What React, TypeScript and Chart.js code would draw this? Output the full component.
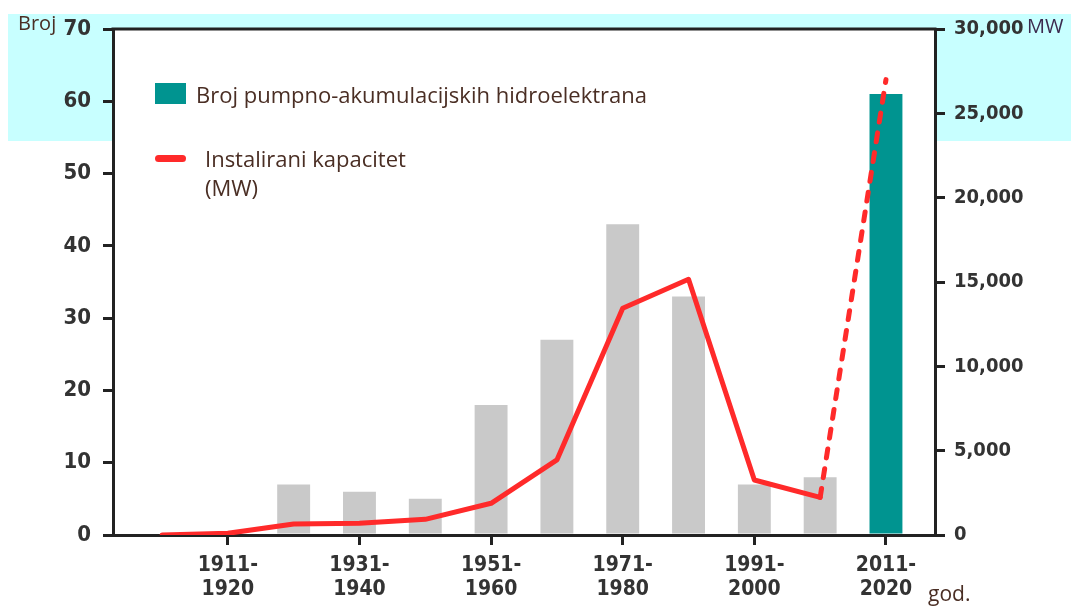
import React, { useEffect, useRef } from "react";
import { Chart, registerables } from "chart.js";

Chart.register(...registerables);

// Decades (x categories)
const decades = [
  "1901-1910", "1911-1920", "1921-1930", "1931-1940", "1941-1950", "1951-1960",
  "1961-1970", "1971-1980", "1981-1990", "1991-2000", "2001-2010", "2011-2020",
];
// Number of pumped-storage plants per decade
const plantCounts = [0, 0, 7, 6, 5, 18, 27, 43, 33, 7, 8, 61];
// Installed capacity (MW)
const capacityMW = [0, 100, 650, 700, 930, 1880, 4450, 13440, 15160, 3260, 2230, 27000];
// Shown x tick labels (index -> two-line label)
const xTickIndexes = [1, 3, 5, 7, 9, 11];
const leftTicks = [0, 10, 20, 30, 40, 50, 60, 70];
const rightTicks = [0, 5000, 10000, 15000, 20000, 25000, 30000];

const TICK_FONT = "'Liberation Sans Narrow', 'DejaVu Sans Condensed', 'Roboto', sans-serif";
const TEXT_FONT = "'Open Sans', 'Noto Sans', sans-serif";
const TEXT_COLOR = "#4a2e24";
const GRAY = "#c9c9c9";
const TEAL = "#009490";
const RED = "#ff2a2a";

const framePlugin = {
  id: "frame",
  beforeDraw(chart: any) {
    const { ctx, chartArea } = chart;
    ctx.save();
    ctx.fillStyle = "#ffffff";
    ctx.fillRect(chartArea.left, chartArea.top, chartArea.right - chartArea.left, chartArea.bottom - chartArea.top);
    ctx.restore();
  },
  afterDraw(chart: any) {
    const { ctx, chartArea } = chart;
    ctx.save();
    ctx.strokeStyle = "#222";
    ctx.lineWidth = 3;
    ctx.beginPath();
    ctx.moveTo(chartArea.left - 1.5, chartArea.top);
    ctx.lineTo(chartArea.right + 1.5, chartArea.top);
    ctx.stroke();
    ctx.restore();
  },
};

export default function App() {
  const canvasRef = useRef<HTMLCanvasElement | null>(null);

  useEffect(() => {
    if (!canvasRef.current) return;
    const barData = plantCounts.map((v, i) => ({ x: i, y: v }));
    const lineData = capacityMW.map((v, i) => ({ x: i, y: v }));
    const chart = new Chart(canvasRef.current, {
      type: "bar",
      data: {
        datasets: [
          {
            type: "line",
            label: "Instalirani kapacitet (MW)",
            data: lineData as any,
            yAxisID: "y1",
            borderColor: RED,
            borderWidth: 5,
            pointRadius: 0,
            tension: 0,
            borderJoinStyle: "round",
            borderCapStyle: "round",
            order: 0,
            segment: {
              borderDash: (ctx: any) => (ctx.p1DataIndex === decades.length - 1 ? [9, 11] : undefined),
            },
          } as any,
          {
            type: "bar",
            label: "Broj pumpno-akumulacijskih hidroelektrana",
            data: barData as any,
            yAxisID: "y",
            backgroundColor: plantCounts.map((_, i) => (i === decades.length - 1 ? TEAL : GRAY)),
            categoryPercentage: 1,
            barPercentage: 0.5,
            order: 1,
          } as any,
        ],
      },
      options: {
        responsive: false,
        animation: false,
        layout: { padding: { top: 29, left: 0, right: 0, bottom: 0 } },
        plugins: { legend: { display: false }, tooltip: { enabled: false } },
        scales: {
          x: {
            type: "linear",
            offset: false,
            min: -0.745,
            max: decades.length - 1 + 0.745,
            afterBuildTicks: (scale: any) => {
              scale.ticks = xTickIndexes.map((v) => ({ value: v }));
            },
            afterFit: (scale: any) => {
              scale.height = 71;
            },
            grid: { offset: false, drawOnChartArea: false, drawTicks: true, tickLength: 10, color: "#222", lineWidth: 3 },
            border: { display: true, color: "#222", width: 3 },
            ticks: {
              autoSkip: false,
              maxRotation: 0,
              padding: 8,
              color: "#333",
              font: { family: TICK_FONT, size: 21, weight: "bold", lineHeight: 1.15 },
              callback: (value: any) => {
                const lab = decades[Math.round(Number(value))] || "";
                const parts = lab.split("-");
                return [parts[0] + "-", parts[1]];
              },
            },
          },
          y: {
            position: "left",
            min: 0,
            max: 70,
            afterBuildTicks: (scale: any) => {
              scale.ticks = leftTicks.map((v) => ({ value: v }));
            },
            afterFit: (scale: any) => {
              scale.width = 113;
            },
            grid: { drawOnChartArea: false, drawTicks: true, tickLength: 10, color: "#222", lineWidth: 3 },
            border: { display: true, color: "#222", width: 3 },
            ticks: {
              padding: 12,
              color: "#333",
              font: { family: TICK_FONT, size: 22, weight: "bold" },
            },
          },
          y1: {
            position: "right",
            min: 0,
            max: 30000,
            afterBuildTicks: (scale: any) => {
              scale.ticks = rightTicks.map((v) => ({ value: v }));
            },
            afterFit: (scale: any) => {
              scale.width = 136;
            },
            grid: { drawOnChartArea: false, drawTicks: true, tickLength: 10, color: "#222", lineWidth: 3 },
            border: { display: true, color: "#222", width: 3 },
            ticks: {
              padding: 9,
              color: "#333",
              font: { family: TICK_FONT, size: 20, weight: "bold" },
              callback: (value: any) => Number(value).toLocaleString("en-US"),
            },
          },
        },
      },
      plugins: [framePlugin],
    });
    return () => chart.destroy();
  }, []);

  const textStyle: React.CSSProperties = {
    position: "absolute",
    fontFamily: TEXT_FONT,
    color: TEXT_COLOR,
    whiteSpace: "nowrap",
    margin: 0,
  };

  return (
    <div style={{ position: "absolute", left: 0, top: 0, width: 1071, height: 606, background: "#fff", overflow: "hidden" }}>
      <div style={{ position: "absolute", left: 8, top: 14, width: 1063, height: 127, background: "rgb(200,255,255)" }} />
      <canvas ref={canvasRef} width={1071} height={606} style={{ position: "absolute", left: 0, top: 0 }} />
      <div style={{ ...textStyle, left: 18, top: 10, fontSize: 20, lineHeight: "26px" }}>Broj</div>
      <div style={{ ...textStyle, left: 1027, top: 13, fontSize: 20, lineHeight: "26px", color: "#3b2a4e" }}>MW</div>
      <div style={{ ...textStyle, left: 928, top: 579, fontSize: 21, lineHeight: "28px" }}>god.</div>
      <div style={{ position: "absolute", left: 155, top: 83, width: 31, height: 21, background: TEAL }} />
      <div style={{ ...textStyle, left: 196, top: 79, fontSize: 22, lineHeight: "30px" }}>
        Broj pumpno-akumulacijskih hidroelektrana
      </div>
      <div style={{ position: "absolute", left: 155, top: 155, width: 31, height: 7, background: RED, borderRadius: 4 }} />
      <div style={{ ...textStyle, left: 205, top: 144, fontSize: 22, lineHeight: "29px" }}>
        Instalirani kapacitet
        <br />
        (MW)
      </div>
    </div>
  );
}
